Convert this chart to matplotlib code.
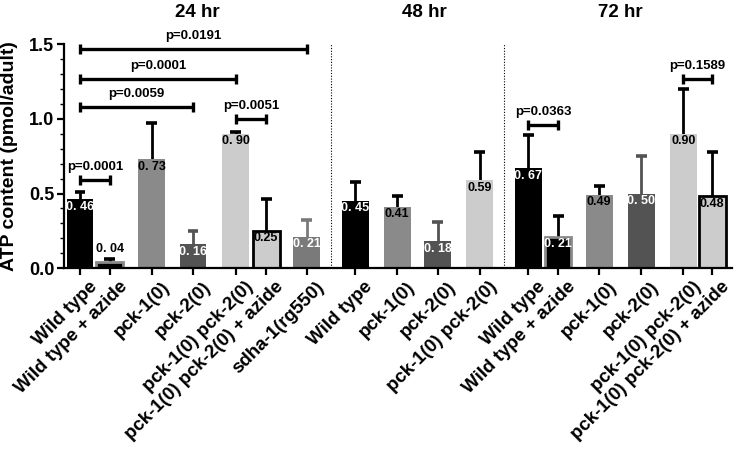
import matplotlib.pyplot as plt
from matplotlib.ticker import MultipleLocator
from matplotlib.transforms import blended_transform_factory, ScaledTranslation

plt.rcParams['font.family'] = ['Liberation Sans', 'DejaVu Sans']
plt.rcParams['font.weight'] = 'bold'

# data
labels = ['Wild type', 'Wild type + azide', 'pck-1(0)', 'pck-2(0)', 'pck-1(0) pck-2(0)',
          'pck-1(0) pck-2(0) + azide', 'sdha-1(rg550)',
          'Wild type', 'pck-1(0)', 'pck-2(0)', 'pck-1(0) pck-2(0)',
          'Wild type', 'Wild type + azide', 'pck-1(0)', 'pck-2(0)', 'pck-1(0) pck-2(0)',
          'pck-1(0) pck-2(0) + azide']
means = [0.46, 0.04, 0.73, 0.16, 0.90, 0.25, 0.21,
         0.45, 0.41, 0.18, 0.59,
         0.67, 0.21, 0.49, 0.50, 0.90, 0.48]
err_top = [0.51, 0.06, 0.97, 0.25, 0.91, 0.46, 0.32,
           0.58, 0.48, 0.31, 0.78,
           0.89, 0.35, 0.55, 0.75, 1.20, 0.78]
value_text = ['0. 46', '0. 04', '0. 73', '0. 16', '0. 90', '0.25', '0. 21',
              '0. 45', '0.41', '0. 18', '0.59',
              '0. 67', '0. 21', '0.49', '0. 50', '0.90', '0.48']
groups = ['24 hr', '48 hr', '72 hr']

# comparisons: (bar i, bar j, line height, text)
pvals = [(0, 6, 1.467, 'p=0.0191'),
         (0, 4, 1.266, 'p=0.0001'),
         (0, 3, 1.078, 'p=0.0059'),
         (4, 5, 0.998, 'p=0.0051'),
         (0, 1, 0.590, 'p=0.0001'),
         (11, 12, 0.958, 'p=0.0363'),
         (15, 16, 1.266, 'p=0.1589')]

# layout / style
xpos = [0, 0.71, 1.71, 2.69, 3.71, 4.43, 5.40,
        6.55, 7.55, 8.52, 9.52,
        10.67, 11.38, 12.36, 13.36, 14.36, 15.05]
BLK, GRY, DGR, LGR, SDH = '#000000', '#8a8a8a', '#535353', '#cccccc', '#7a7a7a'
fills = [BLK, BLK, GRY, DGR, LGR, LGR, SDH,
         BLK, GRY, DGR, LGR,
         BLK, BLK, GRY, DGR, LGR, LGR]
edges = [BLK, GRY, GRY, DGR, LGR, BLK, SDH,
         BLK, GRY, DGR, LGR,
         BLK, GRY, GRY, DGR, LGR, BLK]
edge_w = [0, 2.0, 0, 0, 0, 2.0, 0,
          0, 0, 0, 0,
          0, 2.0, 0, 0, 0, 2.0]
err_col = [BLK, BLK, BLK, DGR, BLK, BLK, SDH,
           BLK, BLK, DGR, BLK,
           BLK, BLK, BLK, DGR, BLK, BLK]
txt_col = ['white', 'black', 'black', 'white', 'black', 'black', 'white',
           'white', 'black', 'white', 'black',
           'white', 'white', 'black', 'white', 'black', 'black']

fig = plt.figure(figsize=(7.36, 4.5), dpi=100)
ax = fig.add_axes([0.087, 0.404, 0.9075, 0.498])

w = 0.64
for i in range(len(means)):
    ax.plot([xpos[i], xpos[i]], [means[i], err_top[i]], color=err_col[i], lw=2.0,
            solid_capstyle='butt', zorder=1)
    ax.plot([xpos[i] - 0.13, xpos[i] + 0.13], [err_top[i], err_top[i]], color=err_col[i],
            lw=2.6, solid_capstyle='butt', zorder=1)
    ax.bar(xpos[i], means[i], width=w, color=fills[i], edgecolor=edges[i],
           linewidth=edge_w[i], zorder=2)
    if means[i] < 0.1:
        ax.text(xpos[i], means[i] + 0.087, value_text[i], ha='center', va='center',
                fontsize=9, color=txt_col[i], zorder=3)
    else:
        ax.text(xpos[i], means[i] - 0.05, value_text[i], ha='center', va='center',
                fontsize=9, color=txt_col[i], zorder=3)

for i, j, y, t in pvals:
    ax.plot([xpos[i], xpos[j]], [y, y], color='black', lw=2.4, clip_on=False,
            solid_capstyle='butt', zorder=4)
    for k in (i, j):
        ax.plot([xpos[k], xpos[k]], [y - 0.033, y + 0.033], color='black', lw=2.4,
                clip_on=False, solid_capstyle='butt', zorder=4)
    ax.text((xpos[i] + xpos[j]) / 2, y + 0.05, t, ha='center', va='bottom',
            fontsize=9.5, clip_on=False)

# group separators
for s in [(xpos[6] + xpos[7]) / 2, (xpos[10] + xpos[11]) / 2]:
    ax.plot([s, s], [0, 1.5], color='black', lw=0.8, ls=(0, (1, 1.5)), zorder=0)

# group titles: x in data, y in figure coords
trans = blended_transform_factory(ax.transData, fig.transFigure)
title_x = [2.79, 8.2, 12.86]
for g, tx in zip(groups, title_x):
    fig.text(tx, 0.972, g, transform=trans, fontsize=13.5, ha='center', va='center')

ax.set_xlim(-0.38, 15.52)
ax.set_ylim(0, 1.5)
ax.set_xticks(xpos)
ax.set_xticklabels([])
# slanted category labels, sitting a little right of their ticks as in the original
lab_trans = ax.get_xaxis_transform() + ScaledTranslation(0.15, -0.16, fig.dpi_scale_trans)
for x, lab in zip(xpos, labels):
    ax.text(x, 0, lab, transform=lab_trans, rotation=45, ha='right', va='center',
            rotation_mode='anchor', fontsize=13.5, clip_on=False)
ax.set_yticks([0, 0.5, 1.0, 1.5])
ax.set_yticklabels(['0.0', '0.5', '1.0', '1.5'], fontsize=13)
ax.yaxis.set_minor_locator(MultipleLocator(0.1))
ax.tick_params(axis='both', which='major', length=5, width=1.6, pad=2)
ax.tick_params(axis='y', which='minor', length=3, width=1.0)
ax.set_ylabel('ATP content (pmol/adult)', fontsize=14, fontweight='bold')
ax.yaxis.set_label_coords(-0.069, 0.502)
for side in ['top', 'right']:
    ax.spines[side].set_visible(False)
for side in ['left', 'bottom']:
    ax.spines[side].set_linewidth(1.6)

fig.savefig('out.png', dpi=100)
